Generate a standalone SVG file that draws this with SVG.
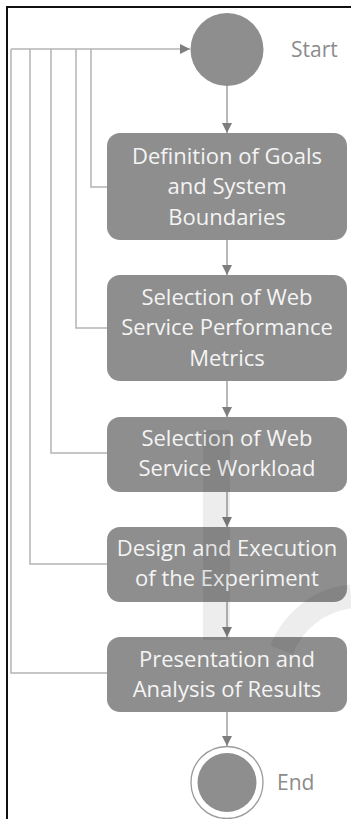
<svg xmlns="http://www.w3.org/2000/svg" width="351" height="819" viewBox="0 0 351 819">
<style>
.box{fill:#8e8e8e;}
.bt{font-family:"Open Sans","Noto Sans",sans-serif;font-size:22px;fill:#f4f4f4;text-anchor:middle;}
.lbl{font-family:"Open Sans","Noto Sans",sans-serif;font-size:21px;fill:#8c8c8c;}
.ln{fill:none;stroke:#a0a0a0;stroke-width:1.5;}
.fl{fill:none;stroke:#b4b4b4;stroke-width:1.5;}
.wm{fill:#000;fill-opacity:0.07;}
</style>
<defs>
<marker id="ah" markerWidth="10" markerHeight="12" refX="10" refY="5" orient="auto" markerUnits="userSpaceOnUse" viewBox="0 0 10 10">
<path d="M0,0 L10,5 L0,10 Z" fill="#7e7e7e"/>
</marker>
</defs>
<rect width="351" height="819" fill="#ffffff"/>
<path d="M7,819 V7 H351" fill="none" stroke="#111" stroke-width="2"/>

<g id="connectors">
<path class="ln" d="M227,86 V133" marker-end="url(#ah)"/>
<path class="ln" d="M227,240 V275" marker-end="url(#ah)"/>
<path class="ln" d="M227,381 V417" marker-end="url(#ah)"/>
<path class="ln" d="M227,492 V527" marker-end="url(#ah)"/>
<path class="ln" d="M227,602 V637" marker-end="url(#ah)"/>
<path class="ln" d="M227,712 V746" marker-end="url(#ah)"/>
<path class="fl" d="M107,187 H91 V49"/>
<path class="fl" d="M107,328 H76 V49"/>
<path class="fl" d="M107,453 H51 V49"/>
<path class="fl" d="M107,564 H30 V49"/>
<path class="fl" d="M107,673 H11 V49"/>
<path class="fl" d="M11,49 H190" marker-end="url(#ah)"/>
</g>

<g id="start">
<circle cx="227" cy="49.5" r="36.5" fill="#8e8e8e"/>
<text class="lbl" x="291" y="57">Start</text>
</g>

<g id="goals">
<rect class="box" x="107" y="133" width="240" height="107" rx="13"/>
<text class="bt" x="227" y="164">Definition of Goals</text>
<text class="bt" x="227" y="194">and System</text>
<text class="bt" x="227" y="225">Boundaries</text>
</g>

<g id="metrics">
<rect class="box" x="107" y="275" width="240" height="106" rx="13"/>
<text class="bt" x="227" y="305">Selection of Web</text>
<text class="bt" x="227" y="335">Service Performance</text>
<text class="bt" x="227" y="366">Metrics</text>
</g>

<g id="workload">
<rect class="box" x="107" y="417" width="240" height="75" rx="13"/>
<text class="bt" x="227" y="446">Selection of Web</text>
<text class="bt" x="227" y="476">Service Workload</text>
</g>

<g id="experiment">
<rect class="box" x="107" y="527" width="240" height="75" rx="13"/>
<text class="bt" x="227" y="556">Design and Execution</text>
<text class="bt" x="227" y="586">of the Experiment</text>
</g>

<g id="results">
<rect class="box" x="107" y="637" width="240" height="75" rx="13"/>
<text class="bt" x="227" y="667">Presentation and</text>
<text class="bt" x="227" y="697">Analysis of Results</text>
</g>

<g id="end">
<circle cx="227" cy="782.5" r="36" fill="#ffffff" stroke="#9a9a9a" stroke-width="1.3"/>
<circle cx="227" cy="782.5" r="29.5" fill="#8e8e8e"/>
<text class="lbl" x="277" y="790">End</text>
</g>

<g id="watermark">
<rect class="wm" x="203" y="430" width="27" height="210"/>
<path d="M281.6,650 A84,84 0 0 1 351,596.5" fill="none" stroke="#000" stroke-opacity="0.07" stroke-width="24"/>
</g>
</svg>
